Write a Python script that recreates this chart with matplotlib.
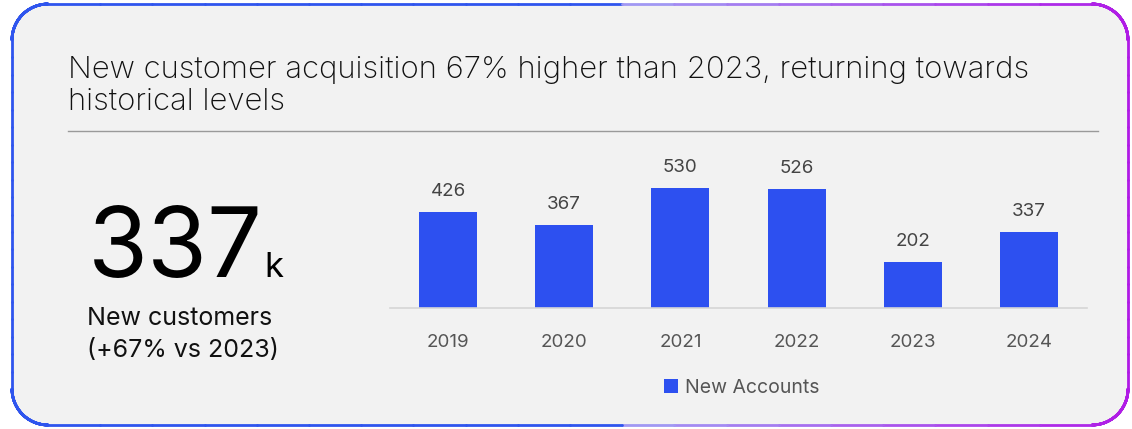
import numpy as np
import matplotlib
matplotlib.use("Agg")
import matplotlib.pyplot as plt
from matplotlib.collections import LineCollection
from matplotlib.patches import FancyBboxPatch
from matplotlib.colors import to_rgb

years = ["2019", "2020", "2021", "2022", "2023", "2024"]
new_accounts = [426, 367, 530, 526, 202, 337]
series_name = "New Accounts"
title_lines = ["New customer acquisition 67% higher than 2023, returning towards",
               "historical levels"]
kpi_value = "337"
kpi_unit = "k"
kpi_caption = ["New customers", "(+67% vs 2023)"]

W, H = 1132, 429
FONT = ["Inter", "DejaVu Sans"]
BAR = "#2D50F0"

fig = plt.figure(figsize=(W / 100, H / 100), dpi=100)
fig.patch.set_facecolor("white")

def fx(px):
    return px / W

def fy(py):
    return 1 - py / H

# card background
x0, y0, x1, y1, r = 12, 4, 1128, 425, 36
card = FancyBboxPatch((fx(x0), fy(y1)), fx(x1 - x0), (y1 - y0) / H,
                      boxstyle=f"round,pad=0,rounding_size={r / W}",
                      transform=fig.transFigure, facecolor="#F2F2F2",
                      edgecolor="none", zorder=-10, mutation_aspect=W / H)
fig.patches.append(card)

# gradient border
pts = []
def arc(cx, cy, a0, a1, n=30):
    for t in np.linspace(a0, a1, n):
        pts.append((cx + r * np.cos(t), cy + r * np.sin(t)))
arc(x0 + r, y0 + r, np.pi, 1.5 * np.pi)
arc(x1 - r, y0 + r, 1.5 * np.pi, 2 * np.pi)
arc(x1 - r, y1 - r, 0, 0.5 * np.pi)
arc(x0 + r, y1 - r, 0.5 * np.pi, np.pi)
pts.append(pts[0])
dense = []
for (a, b) in zip(pts[:-1], pts[1:]):
    for t in np.linspace(0, 1, 20, endpoint=False):
        dense.append((a[0] + (b[0] - a[0]) * t, a[1] + (b[1] - a[1]) * t))
dense.append(pts[-1])
dense = np.array(dense)
segs = np.stack([dense[:-1], dense[1:]], axis=1)
segs_fig = segs.copy()
segs_fig[..., 0] = segs[..., 0] / W
segs_fig[..., 1] = 1 - segs[..., 1] / H
blue = np.array(to_rgb("#2F55EE"))
lav = np.array(to_rgb("#A0A2F4"))
mag = np.array(to_rgb("#B01AE6"))
cols = []
for s in segs:
    xm = s[:, 0].mean()
    if xm < 610:
        cols.append(blue)
    else:
        t = (xm - 610) / (x1 - 610)
        cols.append(lav + (mag - lav) * t)
lc = LineCollection(segs_fig, colors=cols, linewidths=2.0, capstyle="round",
                    transform=fig.transFigure, zorder=-5)
fig.add_artist(lc)

# title (two lines, explicit baselines)
for i, line in enumerate(title_lines):
    fig.text(fx(68), fy(78 + 32 * i), line, fontsize=22.4, family=FONT,
             weight="light", color="#111111", va="baseline", ha="left")
fig.add_artist(plt.Line2D([fx(68), fx(1098)], [fy(131), fy(131)],
                          color="#9a9a9a", lw=1.0, transform=fig.transFigure))

# KPI
fig.text(fx(88), fy(277), kpi_value, fontsize=70, family=FONT,
         color="black", va="baseline", ha="left")
fig.text(fx(264), fy(277), kpi_unit, fontsize=25, family=FONT,
         color="black", va="baseline", ha="left")
for i, line in enumerate(kpi_caption):
    fig.text(fx(87), fy(325 + 32 * i), line, fontsize=18, family=FONT,
             color="#111111", va="baseline", ha="left")

# bar chart
ax_top, ax_bot = 150, 308
ax = fig.add_axes([fx(390), fy(ax_bot), fx(1087 - 390), (ax_bot - ax_top) / H],
                  zorder=5)
ax.set_facecolor("none")
xpos = np.arange(len(years))
bars = ax.bar(xpos, new_accounts, width=0.5, color=BAR, label=series_name, zorder=2)
ax.set_xlim(-0.5, len(years) - 0.5)
ax.set_ylim(0, 530 * (ax_bot - ax_top) / 120)
for s in ["top", "right", "left"]:
    ax.spines[s].set_visible(False)
ax.spines["bottom"].set_color("#d6d6d6")
ax.spines["bottom"].set_linewidth(1.2)
ax.set_yticks([])
ax.set_xticks(xpos)
ax.set_xticklabels(years, fontsize=13.5, family=FONT, color="#555555")
ax.tick_params(axis="x", length=0, pad=19)
for x, v in zip(xpos, new_accounts):
    ax.annotate(f"{v}", (x, v), xytext=(0, 8.5), textcoords="offset points",
                ha="center", va="bottom", fontsize=13.5, family=FONT, color="#444444")

leg = fig.legend(handles=[bars], labels=[series_name], loc="center",
                 bbox_to_anchor=(fx(742), fy(388)), frameon=False,
                 prop={"family": FONT, "size": 14}, handlelength=0.7,
                 handleheight=0.7, handletextpad=0.4)
for txt in leg.get_texts():
    txt.set_color("#555555")

fig.savefig("out.png", dpi=100)
